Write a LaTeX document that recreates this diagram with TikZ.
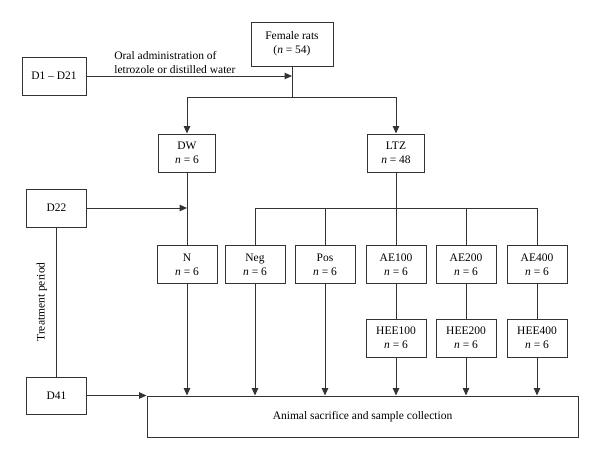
\documentclass[tikz,border=0pt]{standalone}
\usepackage{fontspec}
\setmainfont{Liberation Serif}
\usetikzlibrary{arrows.meta}
\tikzset{
  grpbox/.style={draw=black!80,line width=1pt,minimum width=60pt,minimum height=38pt,inner sep=1pt,align=center,font=\fontsize{11.5}{14}\selectfont},
  daybox/.style={grpbox},
  link/.style={draw=black!80,line width=1pt},
  flowarr/.style={link,-{Triangle[length=7.5pt,width=6.5pt]}},
  lbltext/.style={inner sep=2pt,align=left,font=\fontsize{11.5}{14}\selectfont},
}

\begin{document}
\begin{tikzpicture}[x=1pt,y=-1pt]
  \useasboundingbox (0,0) rectangle (600,458);
  \node[grpbox,minimum width=82pt,minimum height=44pt] (nFem) at (292,44) {Female rats\\(\textit{n} = 54)};
  \node[daybox,minimum width=64pt] (nD1) at (54,76) {D1 -- D21};
  \node[grpbox,minimum width=57pt] (nDW) at (187,153) {DW\\\textit{n} = 6};
  \node[grpbox,minimum width=57pt] (nLTZ) at (396,153) {LTZ\\\textit{n} = 48};
  \node[daybox] (nD22) at (56.5,208) {D22};
  \node[daybox,minimum height=37pt] (nD41) at (56.5,395.5) {D41};
  \node[grpbox] (nN) at (187,264.5) {N\\\textit{n} = 6};
  \node[grpbox] (nNeg) at (255,264.5) {Neg\\\textit{n} = 6};
  \node[grpbox] (nPos) at (325,264.5) {Pos\\\textit{n} = 6};
  \node[grpbox] (nAE1) at (396,264.5) {AE100\\\textit{n} = 6};
  \node[grpbox] (nAE2) at (466,264.5) {AE200\\\textit{n} = 6};
  \node[grpbox] (nAE4) at (537,264.5) {AE400\\\textit{n} = 6};
  \node[grpbox] (nHEE1) at (396,338) {HEE100\\\textit{n} = 6};
  \node[grpbox] (nHEE2) at (466,338) {HEE200\\\textit{n} = 6};
  \node[grpbox] (nHEE4) at (537,338) {HEE400\\\textit{n} = 6};
  \node[grpbox,minimum width=431pt,minimum height=41pt] (nColl) at (362.5,416.5) {Animal sacrifice and sample collection};
  \coordinate (cSplit) at (292,97);
  \coordinate (cBus) at (396,208);
  % induction
  \draw[flowarr] (nD1) -- node[lbltext,above,pos=0.43] {Oral administration of\\letrozole or distilled water} (nD1 -| nFem);
  \draw[link] (nFem) -- (cSplit);
  \draw[flowarr] (cSplit) -| (nDW);
  \draw[flowarr] (cSplit) -| (nLTZ);
  % treatment
  \draw[flowarr] (nD22) -- (nD22 -| nDW);
  \draw[link] (nD41) -- node[lbltext,sloped,above=7pt] {Treatment period} (nD22);
  \draw[link] (nDW) -- (nN);
  \draw[link] (nLTZ) -- (cBus);
  \draw[link] (cBus -| nNeg) -- (cBus -| nAE4);
  \foreach \g in {nNeg,nPos,nAE1,nAE2,nAE4}
    \draw[link] (cBus -| \g) -- (\g);
  \draw[link] (nAE1) -- (nHEE1);
  \draw[link] (nAE2) -- (nHEE2);
  \draw[link] (nAE4) -- (nHEE4);
  % sacrifice
  \foreach \g in {nN,nNeg,nPos,nHEE1,nHEE2,nHEE4}
    \draw[flowarr] (\g) -- (\g |- nColl.north);
  \draw[flowarr] (nD41) -- (nD41 -| nColl.west);
\end{tikzpicture}
\end{document}
